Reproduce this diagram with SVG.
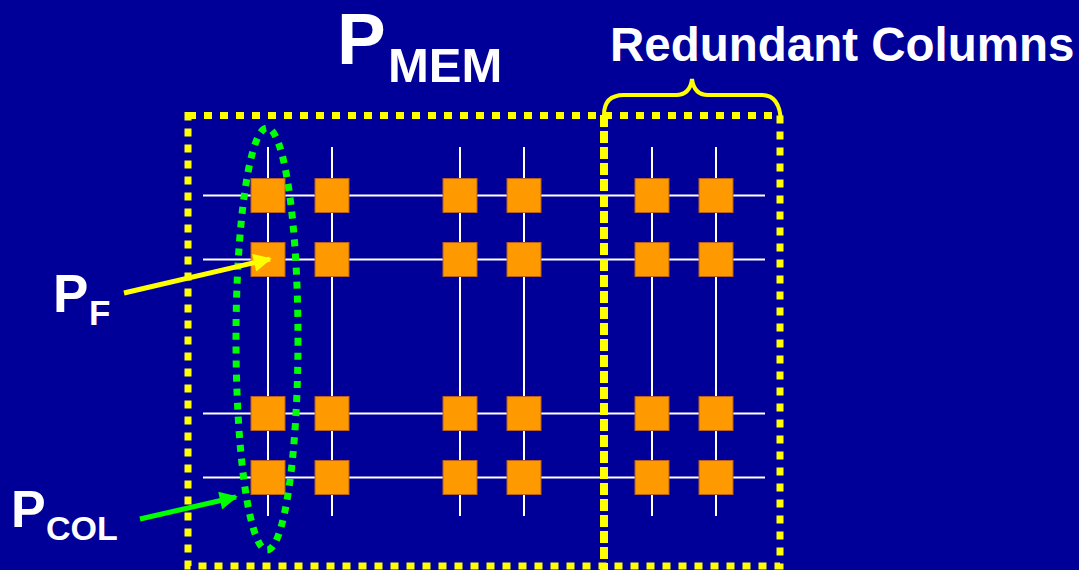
<svg xmlns="http://www.w3.org/2000/svg" width="1079" height="570" viewBox="0 0 1079 570">
<defs>
<style>
.txt{font-family:"Liberation Sans",Arial,sans-serif;font-weight:bold;fill:#ffffff}
.grid line{stroke:#ffffff;stroke-width:2}
.cell rect{fill:#ff9900;stroke:#b86020;stroke-width:1}
.ydot{fill:none;stroke:#ffff00;stroke-width:7;stroke-dasharray:8 8}
</style>
<marker id="ahY" viewBox="0 0 10 10" refX="9" refY="5" markerWidth="4.5" markerHeight="3.6" orient="auto" markerUnits="strokeWidth"><path d="M0,0 L10,5 L0,10 Z" fill="#ffff00"/></marker>
<marker id="ahG" viewBox="0 0 10 10" refX="9" refY="5" markerWidth="4.5" markerHeight="3.6" orient="auto" markerUnits="strokeWidth"><path d="M0,0 L10,5 L0,10 Z" fill="#00ff00"/></marker>
</defs>
<rect x="0" y="0" width="1079" height="570" fill="#000099"/>

<g id="grid" class="grid">
<line x1="203" y1="195.5" x2="765" y2="195.5"/>
<line x1="203" y1="259.5" x2="765" y2="259.5"/>
<line x1="203" y1="413.5" x2="765" y2="413.5"/>
<line x1="203" y1="477.5" x2="765" y2="477.5"/>
<line x1="268" y1="147" x2="268" y2="516"/>
<line x1="332" y1="147" x2="332" y2="516"/>
<line x1="460" y1="147" x2="460" y2="516"/>
<line x1="524" y1="147" x2="524" y2="516"/>
<line x1="652" y1="147" x2="652" y2="516"/>
<line x1="716" y1="147" x2="716" y2="516"/>
</g>

<g id="cells" class="cell">
<rect x="251" y="178.5" width="34" height="34"/><rect x="315" y="178.5" width="34" height="34"/><rect x="443" y="178.5" width="34" height="34"/><rect x="507" y="178.5" width="34" height="34"/><rect x="635" y="178.5" width="34" height="34"/><rect x="699" y="178.5" width="34" height="34"/>
<rect x="251" y="242.5" width="34" height="34"/><rect x="315" y="242.5" width="34" height="34"/><rect x="443" y="242.5" width="34" height="34"/><rect x="507" y="242.5" width="34" height="34"/><rect x="635" y="242.5" width="34" height="34"/><rect x="699" y="242.5" width="34" height="34"/>
<rect x="251" y="396.5" width="34" height="34"/><rect x="315" y="396.5" width="34" height="34"/><rect x="443" y="396.5" width="34" height="34"/><rect x="507" y="396.5" width="34" height="34"/><rect x="635" y="396.5" width="34" height="34"/><rect x="699" y="396.5" width="34" height="34"/>
<rect x="251" y="460.5" width="34" height="34"/><rect x="315" y="460.5" width="34" height="34"/><rect x="443" y="460.5" width="34" height="34"/><rect x="507" y="460.5" width="34" height="34"/><rect x="635" y="460.5" width="34" height="34"/><rect x="699" y="460.5" width="34" height="34"/>
</g>

<g id="memory-box">
<rect class="ydot" x="188" y="115.5" width="592" height="450.5"/>
</g>
<g id="redundant-box">
<line x1="604" y1="115" x2="604" y2="570" stroke="#ffff00" stroke-width="8" stroke-dasharray="12 4"/>
<path d="M604,115 Q604,95 624,95 L676,95 Q690,95 692,79 Q694,95 708,95 L762,95 Q780,95 781,122" fill="none" stroke="#ffff00" stroke-width="4"/>
</g>

<g id="column-ellipse">
<ellipse cx="267" cy="339" rx="31" ry="211" fill="none" stroke="#00ff00" stroke-width="7" stroke-dasharray="7 7"/>
</g>

<g id="connectors">
<line x1="124" y1="293" x2="270" y2="259" stroke="#ffff00" stroke-width="5" marker-end="url(#ahY)"/>
<line x1="140" y1="519" x2="236" y2="497" stroke="#00ff00" stroke-width="5" marker-end="url(#ahG)"/>
</g>

<g id="label-pmem"><text class="txt" x="337" y="64" font-size="73">P</text><text class="txt" x="388" y="81.5" font-size="49">MEM</text></g>
<g id="label-redundant"><text class="txt" x="610" y="61" font-size="47.5">Redundant Columns</text></g>
<g id="label-pf"><text class="txt" x="53" y="311.5" font-size="53">P</text><text class="txt" x="89" y="325" font-size="35">F</text></g>
<g id="label-pcol"><text class="txt" x="11" y="527" font-size="52">P</text><text class="txt" x="46" y="540" font-size="34">COL</text></g>
</svg>
